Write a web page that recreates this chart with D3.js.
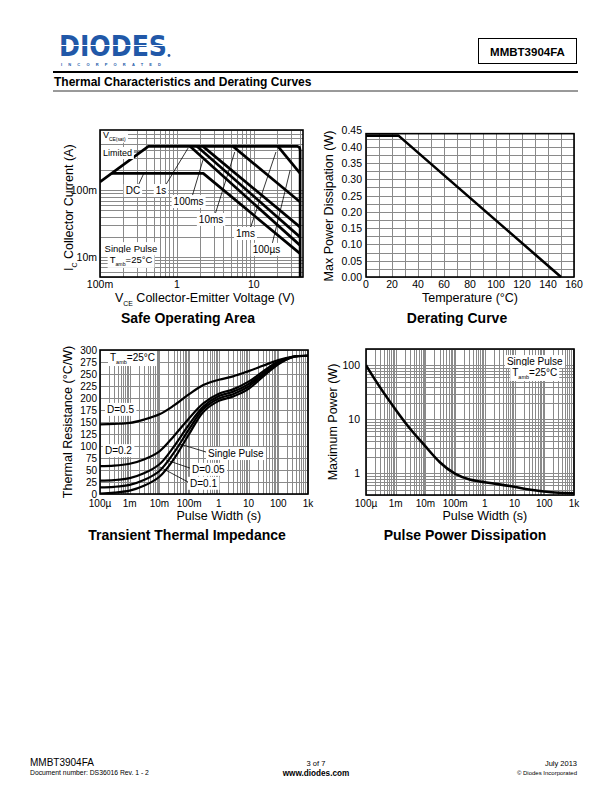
<!DOCTYPE html>
<html><head><meta charset="utf-8">
<script src="https://cdn.jsdelivr.net/npm/d3@7"></script>
<style>body{margin:0;background:#fff}svg text{font-family:"Liberation Sans",Arial,Helvetica,sans-serif}</style>
</head><body><svg id="s" width="612" height="792"></svg>
<script>
// ---------------- DATA ----------------
// Safe Operating Area (V, A)
const soaXTicks = [0.1, 1, 10];
const soaXLabels = ["100m", "1", "10"];
const soaYTicks = [0.01, 0.1];
const soaYLabels = ["10m", "100m"];
const soaLimit = [[0.1, 0.133], [0.425, 0.455], [36.5, 0.455], [39.2, 0.44], [40, 0.40], [40, 0.005]];
const soaDC = [[0.142, 0.179], [2.2, 0.179], [40, 0.0112]];
const soa1s = [[1.48, 0.455], [40, 0.0149]];
const soa100ms = [[1.82, 0.455], [40, 0.0198]];
const soa10ms = [[2.18, 0.455], [40, 0.028]];
const soa1ms = [[5.37, 0.455], [40, 0.0666]];
const soa100us = [[20.6, 0.455], [40, 0.179]];

// Derating curve (°C, W)
const derTicksX = [0, 20, 40, 60, 80, 100, 120, 140, 160];
const derTicksY = [0, 0.05, 0.10, 0.15, 0.20, 0.25, 0.30, 0.35, 0.40, 0.45];
const derT = [0, 25, 150];
const derP = [0.434, 0.434, 0];

// Transient thermal impedance (s, °C/W)
const tiTicksX = [1e-4, 1e-3, 1e-2, 1e-1, 1, 10, 100, 1000];
const tiLabelsX = ["100µ", "1m", "10m", "100m", "1", "10", "100", "1k"];
const tiTicksY = [0, 25, 50, 75, 100, 125, 150, 175, 200, 225, 250, 275, 300];
const tiT = [1e-4, 3e-4, 1e-3, 3e-3, 1e-2, 3e-2, 1e-1, 3e-1, 1, 3, 10, 30, 100, 300, 1000];
const tiD05 = [145, 146, 148, 155, 166, 184, 208, 227, 238, 245, 256, 267, 279, 286, 288];
const tiD02 = [58, 59, 63, 72, 89, 120, 158, 189, 209, 218, 234, 255, 276, 286, 288];
const tiD01 = [28, 29, 33, 43, 62, 98, 145, 182, 204, 213, 229, 251, 274, 286, 288];
const tiD005 = [14, 15, 19, 29, 48, 85, 135, 177, 199, 208, 224, 248, 272, 285, 288];
const tiSingle = [1, 3, 7, 17, 36, 72, 125, 171, 194, 203, 219, 244, 270, 285, 288];

// Pulse power dissipation (s, W)
const ppTicksX = tiTicksX;
const ppLabelsX = tiLabelsX;
const ppTicksY = [1, 10, 100];
const ppLabelsY = ["1", "10", "100"];
const ppT = [1e-4, 3e-4, 1e-3, 3e-3, 1e-2, 3e-2, 1e-1, 3e-1, 1, 3, 10, 30, 100, 300, 1000];
const ppP = [100, 38, 15, 6.6, 3.2, 1.55, 0.95, 0.76, 0.69, 0.63, 0.57, 0.50, 0.46, 0.44, 0.43];

// ---------------- DRAWING ----------------
const svg = d3.select("#s");
const GRID = "#8a8a8a";

function logVals(lo, hi) {
  const out = [];
  for (let e = Math.floor(Math.log10(lo)) - 1; e <= Math.ceil(Math.log10(hi)); e++)
    for (let m = 1; m < 10; m++) {
      const v = +(m * Math.pow(10, e)).toPrecision(6);
      if (v >= lo * 0.9999 && v <= hi * 1.0001) out.push(v);
    }
  return out;
}
function txt(g, x, y, parts, o = {}) {
  const t = g.append("text").attr("x", x).attr("y", y)
    .attr("font-size", o.size || 10).attr("text-anchor", o.anchor || "start")
    .attr("font-weight", o.weight || "normal").attr("fill", o.fill || "#000");
  if (o.rotate) t.attr("transform", `rotate(${o.rotate},${x},${y})`);
  if (typeof parts === "string") parts = [[parts]];
  let sub = false;
  parts.forEach(([s, k]) => {
    const ts = t.append("tspan").text(s);
    if (k === "sub" && !sub) { ts.attr("font-size", (o.size || 10) * 0.55).attr("dy", (o.size || 10) * 0.3); sub = true; }
    else if (k !== "sub" && sub) { ts.attr("dy", -(o.size || 10) * 0.3); sub = false; }
    else if (k === "sub") ts.attr("font-size", (o.size || 10) * 0.55);
  });
  if (o.bg) {
    const b = t.node().getBBox();
    g.insert("rect", () => t.node()).attr("x", b.x - 2).attr("y", b.y - 1)
      .attr("width", b.width + 4).attr("height", b.height + 2).attr("fill", "#fff");
  }
  return t;
}
function frame(g, x, y) {
  g.append("rect").attr("x", x.range()[0]).attr("y", y.range()[1])
    .attr("width", x.range()[1] - x.range()[0]).attr("height", y.range()[0] - y.range()[1])
    .attr("fill", "none").attr("stroke", "#000").attr("stroke-width", 1.6);
}
function vgrid(g, x, y, vals) {
  g.append("g").selectAll("line").data(vals).join("line")
    .attr("x1", d => Math.round(x(d)) + 0.5).attr("x2", d => Math.round(x(d)) + 0.5)
    .attr("y1", y.range()[0]).attr("y2", y.range()[1])
    .attr("stroke", GRID).attr("stroke-width", 1);
}
function hgrid(g, x, y, vals) {
  g.append("g").selectAll("line").data(vals).join("line")
    .attr("y1", d => Math.round(y(d)) + 0.5).attr("y2", d => Math.round(y(d)) + 0.5)
    .attr("x1", x.range()[0]).attr("x2", x.range()[1])
    .attr("stroke", GRID).attr("stroke-width", 1);
}
function clipFor(id, x, y) {
  svg.append("clipPath").attr("id", id).append("rect")
    .attr("x", x.range()[0]).attr("y", y.range()[1])
    .attr("width", x.range()[1] - x.range()[0]).attr("height", y.range()[0] - y.range()[1]);
  return `url(#${id})`;
}
function curve(g, x, y, pts, w, c) {
  g.append("path").datum(pts)
    .attr("d", d3.line().x(d => x(d[0])).y(d => y(d[1])).curve(c || d3.curveLinear))
    .attr("fill", "none").attr("stroke", "#000").attr("stroke-width", w || 2.6)
    .attr("stroke-linejoin", "round");
}
function pointer(g, x, y, a, b) {
  g.append("line").attr("x1", x(a[0])).attr("y1", y(a[1])).attr("x2", x(b[0])).attr("y2", y(b[1]))
    .attr("stroke", "#000").attr("stroke-width", 0.8);
}

// ---- header ----
const hdr = svg.append("g");
hdr.append("text").attr("x", 59).attr("y", 55.5).attr("font-size", 28).attr("font-weight", 900)
  .attr("fill", "#2158a8").attr("textLength", 108).attr("lengthAdjust", "spacingAndGlyphs")
  .style("font-family", "'DejaVu Sans',sans-serif").text("DIODES");
hdr.append("line").attr("x1", 58).attr("x2", 168).attr("y1", 45.5).attr("y2", 45.5).attr("stroke", "#fff").attr("stroke-width", 1.2);
hdr.append("text").attr("x", 61).attr("y", 65.5).attr("font-size", 4).attr("font-weight", "bold")
  .attr("fill", "#2158a8").attr("textLength", 100).attr("lengthAdjust", "spacing").text("INCORPORATED");
hdr.append("circle").attr("cx", 169).attr("cy", 55.5).attr("r", 1.4).attr("fill", "#2158a8");
hdr.append("rect").attr("x", 478.5).attr("y", 38.5).attr("width", 98).attr("height", 25).attr("fill", "none").attr("stroke", "#000").attr("stroke-width", 1);
txt(hdr, 527.5, 56, "MMBT3904FA", { size: 11.5, weight: "bold", anchor: "middle" });
hdr.append("line").attr("x1", 53).attr("x2", 578).attr("y1", 72).attr("y2", 72).attr("stroke", "#000").attr("stroke-width", 2);
txt(hdr, 54, 86, "Thermal Characteristics and Derating Curves", { size: 12, weight: "bold" });
hdr.append("line").attr("x1", 53).attr("x2", 578).attr("y1", 91).attr("y2", 91).attr("stroke", "#000").attr("stroke-width", 0.8);

// ---- footer ----
const ft = svg.append("g");
txt(ft, 30, 766, "MMBT3904FA", { size: 10 });
txt(ft, 30, 775, "Document number: DS36016 Rev. 1 - 2", { size: 6.8 });
txt(ft, 316, 766, "3 of 7", { size: 7.5, anchor: "middle" });
txt(ft, 316, 776, "www.diodes.com", { size: 8.2, anchor: "middle", weight: "bold" });
txt(ft, 577, 766, "July 2013", { size: 7.5, anchor: "end" });
txt(ft, 577, 775, "© Diodes Incorporated", { size: 6, anchor: "end" });

// ---- Safe Operating Area ----
{
  const g = svg.append("g");
  const x = d3.scaleLog().domain([0.1, 43.6]).range([100, 303]);
  const y = d3.scaleLog().domain([0.005, 0.8]).range([277, 130]);
  vgrid(g, x, y, logVals(0.1, 43.6));
  hgrid(g, x, y, logVals(0.005, 0.8));
  const cp = g.append("g").attr("clip-path", clipFor("c1", x, y));
  [soaLimit, soaDC, soa1s, soa100ms, soa10ms, soa1ms, soa100us].forEach(p => curve(cp, x, y, p, 2.7));
  // annotations
  pointer(g, x, y, [0.231, 0.374], [0.332, 0.374]);
  pointer(g, x, y, [0.312, 0.116], [0.373, 0.181]);
  pointer(g, x, y, [0.703, 0.116], [1.398, 0.429]);
  pointer(g, x, y, [1.57, 0.0792], [2.18, 0.283]);
  pointer(g, x, y, [3.12, 0.0426], [5.65, 0.374]);
  pointer(g, x, y, [8.93, 0.0262], [19.4, 0.374]);
  pointer(g, x, y, [17.2, 0.0151], [29.7, 0.201]);
  txt(g, x(0.109), y(0.607), [["V"], ["CE(sat)", "sub"]], { size: 9, bg: true });
  txt(g, x(0.109), y(0.326), "Limited", { size: 9, bg: true });
  txt(g, x(0.268), y(0.0877), "DC", { size: 10, anchor: "middle", bg: true });
  txt(g, x(0.621), y(0.0877), "1s", { size: 10, anchor: "middle", bg: true });
  txt(g, x(1.42), y(0.06), "100ms", { size: 10, anchor: "middle", bg: true });
  txt(g, x(2.78), y(0.0323), "10ms", { size: 10, anchor: "middle", bg: true });
  txt(g, x(7.8), y(0.0199), "1ms", { size: 10, anchor: "middle", bg: true });
  txt(g, x(14.6), y(0.0115), "100µs", { size: 10, anchor: "middle", bg: true });
  txt(g, x(0.253), y(0.0118), "Single Pulse", { size: 9.5, anchor: "middle", bg: true });
  txt(g, x(0.253), y(0.0081), [["T"], ["amb", "sub"], ["=25°C"]], { size: 9.5, anchor: "middle", bg: true });
  frame(g, x, y);
  soaXTicks.forEach((v, i) => txt(g, x(v), 288, soaXLabels[i], { size: 10.5, anchor: "middle" }));
  soaYTicks.forEach((v, i) => txt(g, 97, y(v) + 4, soaYLabels[i], { size: 10.5, anchor: "end" }));
  txt(g, 115, 302, [["V"], ["CE", "sub"], ["   Collector-Emitter Voltage (V)"]], { size: 12.5 });
  txt(g, 73, 271, [["I"], ["C", "sub"], ["  Collector Current (A)"]], { size: 12.5, rotate: -90 });
  txt(g, 188, 323, "Safe Operating Area", { size: 14, weight: "bold", anchor: "middle" });
}

// ---- Derating Curve ----
{
  const g = svg.append("g");
  const x = d3.scaleLinear().domain([0, 160]).range([366, 574]);
  const y = d3.scaleLinear().domain([0, 0.45]).range([277, 130.4]);
  const yf = d3.scaleLinear().domain([0, 0.44]).range([277, y(0.44)]);
  vgrid(g, x, yf, d3.range(0, 161, 10));
  hgrid(g, x, yf, d3.range(0, 0.44, 0.025));
  curve(g, x, y, derT.map((t, i) => [t, derP[i]]), 2.6);
  frame(g, x, yf);
  derTicksX.forEach(v => txt(g, x(v), 288, String(v), { size: 10.5, anchor: "middle" }));
  derTicksY.forEach(v => txt(g, 362, y(v) + 4, v.toFixed(2), { size: 10.5, anchor: "end" }));
  txt(g, x(80), 302, "Temperature (°C)", { size: 12.5, anchor: "middle" });
  txt(g, 333, 206, "Max Power Dissipation (W)", { size: 12.5, anchor: "middle", rotate: -90 });
  txt(g, 457, 323, "Derating Curve", { size: 14, weight: "bold", anchor: "middle" });
}

// ---- Transient Thermal Impedance ----
{
  const g = svg.append("g");
  const x = d3.scaleLog().domain([1e-4, 1e3]).range([100, 308]);
  const y = d3.scaleLinear().domain([0, 300]).range([494, 350]);
  vgrid(g, x, y, logVals(1e-4, 1e3));
  hgrid(g, x, y, tiTicksY);
  const cp = g.append("g").attr("clip-path", clipFor("c3", x, y));
  [tiD05, tiD02, tiD01, tiD005, tiSingle].forEach(s =>
    curve(cp, x, y, tiT.map((t, i) => [t, s[i]]), 2.2, d3.curveCatmullRom.alpha(0.5)));
  pointer(g, x, y, [0.37, 87.5], [0.0493, 104]);
  pointer(g, x, y, [0.107, 54], [0.0166, 71]);
  pointer(g, x, y, [0.0915, 25], [0.0105, 56]);
  txt(g, x(2.17e-4), y(277), [["T"], ["amb", "sub"], ["=25°C"]], { size: 10, bg: true });
  txt(g, x(1.72e-4), y(169), "D=0.5", { size: 10, bg: true });
  txt(g, x(1.47e-4), y(83), "D=0.2", { size: 10, bg: true });
  txt(g, x(0.431), y(77), "Single Pulse", { size: 10, bg: true });
  txt(g, x(0.125), y(44), "D=0.05", { size: 10, bg: true });
  txt(g, x(0.107), y(15), "D=0.1", { size: 10, bg: true });
  frame(g, x, y);
  tiTicksX.forEach((v, i) => txt(g, x(v), 507, tiLabelsX[i], { size: 10, anchor: "middle" }));
  tiTicksY.forEach(v => txt(g, 97, y(v) + 3.5, String(v), { size: 10, anchor: "end" }));
  txt(g, x(1), 520, "Pulse Width (s)", { size: 12.5, anchor: "middle" });
  txt(g, 72, 422, "Thermal Resistance (°C/W)", { size: 12.5, anchor: "middle", rotate: -90 });
  txt(g, 187, 540, "Transient Thermal Impedance", { size: 14, weight: "bold", anchor: "middle" });
}

// ---- Pulse Power Dissipation ----
{
  const g = svg.append("g");
  const x = d3.scaleLog().domain([1e-4, 1e3]).range([366, 574]);
  const y = d3.scaleLog().domain([0.4, 200]).range([495, 349]);
  vgrid(g, x, y, logVals(1e-4, 1e3));
  hgrid(g, x, y, logVals(0.4, 200));
  const cp = g.append("g").attr("clip-path", clipFor("c4", x, y));
  curve(cp, x, y, ppT.map((t, i) => [t, ppP[i]]), 2.6, d3.curveBasis);
  txt(g, x(47.8), y(101), "Single Pulse", { size: 10, anchor: "middle", bg: true });
  txt(g, x(47.8), y(63.4), [["T"], ["amb", "sub"], ["=25°C"]], { size: 10, anchor: "middle", bg: true });
  frame(g, x, y);
  ppTicksX.forEach((v, i) => txt(g, x(v), 507, ppLabelsX[i], { size: 10, anchor: "middle" }));
  ppTicksY.forEach((v, i) => txt(g, 360, y(v) + 4, ppLabelsY[i], { size: 10.5, anchor: "end" }));
  txt(g, x(1), 520, "Pulse Width (s)", { size: 12.5, anchor: "middle" });
  txt(g, 337, 422, "Maximum Power (W)", { size: 12.5, anchor: "middle", rotate: -90 });
  txt(g, 465, 540, "Pulse Power Dissipation", { size: 14, weight: "bold", anchor: "middle" });
}
</script></body></html>
